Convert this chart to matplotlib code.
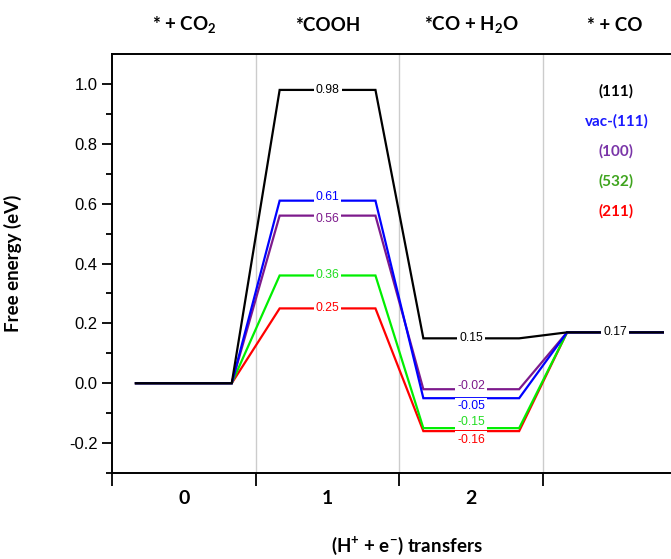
import matplotlib
matplotlib.use('Agg')
import matplotlib.pyplot as plt
import matplotlib.transforms as mtransforms

#Data for the free energy diagram
states = [r'* + CO$_\mathbf{2}$', '*COOH', r'*CO + H$_\mathbf{2}$O', '* + CO']
steps = [0, 1, 2, 3]
step_labels = ['0', '1', '2']
surfaces = ['(111)', 'vac-(111)', '(100)', '(532)', '(211)']
e_111 = [0.0, 0.98, 0.15, 0.17]
e_vac111 = [0.0, 0.61, -0.05, 0.17]
e_100 = [0.0, 0.56, -0.02, 0.17]
e_532 = [0.0, 0.36, -0.15, 0.17]
e_211 = [0.0, 0.25, -0.16, 0.17]

energies = [e_111, e_vac111, e_100, e_532, e_211]
line_colors = ['black', '#0000ff', '#7d1a8c', '#00ee00', '#ff0000']
text_colors = ['black', '#1a1aff', '#7a35a8', '#3fa41e', '#ff0000']
#small vertical nudges (eV) so the value labels do not overlap
label_shift = [
    [0, 0, 0, 0],
    [0, 0.012, -0.025, 0],
    [0, -0.012, 0.01, 0],
    [0, 0, 0.02, 0],
    [0, 0, -0.028, 0],
]

plt.rcParams['axes.unicode_minus'] = False
plt.rcParams['font.family'] = 'Liberation Sans'
plt.rcParams['mathtext.fontset'] = 'custom'
plt.rcParams['mathtext.rm'] = 'Lato'
plt.rcParams['mathtext.bf'] = 'Lato:bold'

fig = plt.figure(figsize=(6.71, 5.59), dpi=100)
ax = fig.add_axes([0.1669, 0.1538, 0.8331, 0.7496])

half = 1 / 3
#Drawing the plateaus and connectors (draw from bottom to top so black is on top)
for k in range(len(energies) - 1, -1, -1):
    xs, ys = [], []
    for s, e in zip(steps, energies[k]):
        xs += [s - half, s + half]
        ys += [e, e]
    ax.plot(xs, ys, color=line_colors[k], lw=1.6, solid_joinstyle='miter', zorder=3 + (5 - k))

#Value labels on the plateaus (state 0 and the shared 0.17 only once)
for k in range(len(energies)):
    for s in steps:
        if s == 0:
            continue
        if s == 3 and k > 0:
            continue
        e = energies[k][s]
        ax.text(s, e + label_shift[k][s], '%.2f' % e, color=line_colors[k] if k != 3 else '#22dd22',
                ha='center', va='center', fontsize=8.8, zorder=20,
                bbox=dict(facecolor='white', edgecolor='none', pad=1.5))

#Legend as colored text
for k, name in enumerate(surfaces):
    ax.text(3.01, 0.975 - 0.1 * k, name, color=text_colors[k], ha='center', va='center',
            fontsize=11, fontweight='bold', family='Lato')

#Axes setup
ax.set_xlim(-0.5, 3.39)
ax.set_ylim(-0.3, 1.1)
ax.set_xticks([-0.5, 0.5, 1.5, 2.5])
ax.set_xticklabels([])
ax.set_xticks(steps[:3], minor=True)
ax.set_xticklabels(step_labels, minor=True, fontsize=14, fontweight='bold', family='Lato')
ax.tick_params(axis='x', which='major', direction='out', length=9, width=1.3)
ax.tick_params(axis='x', which='minor', length=0, pad=12)
for g in [0.5, 1.5, 2.5]:
    ax.axvline(g, color='#cccccc', lw=1, zorder=1)

ax.set_yticks([-0.2, 0.0, 0.2, 0.4, 0.6, 0.8, 1.0])
ax.set_yticks([-0.3, -0.1, 0.1, 0.3, 0.5, 0.7, 0.9], minor=True)
ax.tick_params(axis='y', which='major', direction='out', length=7, width=1.3, labelsize=12)
ax.tick_params(axis='y', which='minor', direction='out', length=4, width=1.3)

for side in ['left', 'bottom', 'top']:
    ax.spines[side].set_linewidth(1.4)
ax.spines['right'].set_visible(False)

ax.set_ylabel('Free energy (eV)', fontsize=13.5, fontweight='bold', family='Lato')
ax.yaxis.set_label_coords(-0.161, 0.5)
ax.set_xlabel(r'(H$^\mathbf{+}$ + e$^\mathbf{-}$) transfers', fontsize=13.5, fontweight='bold', family='Lato')
ax.xaxis.set_label_coords((1.55 + 0.5) / 3.89, -0.148)

#State names above the plot
trans = mtransforms.blended_transform_factory(ax.transData, ax.transAxes)
for s, name in zip(steps, states):
    ax.text(s, 1.069, name, transform=trans, ha='center', va='center',
            fontsize=13.5, fontweight='bold', family='Lato')

fig.savefig('out.png', dpi=100)
